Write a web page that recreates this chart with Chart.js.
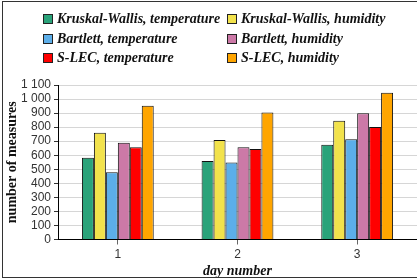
<!DOCTYPE html>
<html>
<head>
<meta charset="utf-8">
<script src="https://cdn.jsdelivr.net/npm/chart.js@4/dist/chart.umd.min.js"></script>
<style>
html,body{margin:0;padding:0;background:#fff;overflow:hidden;}
#wrap{position:relative;width:417px;height:280px;}
</style>
</head>
<body>
<div id="wrap"><canvas id="c" width="417" height="280"></canvas></div>
<script>
const categories = ["1", "2", "3"];
const seriesLabels = [
  "Kruskal-Wallis, temperature",
  "Kruskal-Wallis, humidity",
  "Bartlett, temperature",
  "Bartlett, humidity",
  "S-LEC, temperature",
  "S-LEC, humidity"
];
const kwTemperature = [582, 559, 675];
const kwHumidity = [760, 708, 846];
const bartlettTemperature = [478, 549, 713];
const bartlettHumidity = [689, 656, 898];
const slecTemperature = [656, 644, 801];
const slecHumidity = [952, 905, 1045];
const seriesColors = ["#2aa37a", "#f2e24c", "#5caee9", "#cc79a7", "#ff0000", "#ffa500"];
const yTitle = "number of measures";
const xTitle = "day number";
const yMax = 1100;
const yStep = 100;

const values = [kwTemperature, kwHumidity, bartlettTemperature, bartlettHumidity, slecTemperature, slecHumidity];

const frameAndLegend = {
  id: 'frameAndLegend',
  afterDraw(chart) {
    const ctx = chart.ctx;
    ctx.save();
    ctx.strokeStyle = '#333';
    ctx.lineWidth = 1;
    ctx.strokeRect(2.5, 1.5, 430, 276);
    const colX = [43, 227];
    const rowY = [14, 34, 53];
    ctx.font = 'italic bold 14px "Liberation Serif", serif';
    ctx.textBaseline = 'middle';
    ctx.textAlign = 'left';
    chart.data.datasets.forEach((ds, i) => {
      const col = i % 2, row = Math.floor(i / 2);
      const x = colX[col], y = rowY[row];
      ctx.fillStyle = ds.backgroundColor;
      ctx.fillRect(x, y, 10, 10);
      ctx.strokeStyle = '#222';
      ctx.strokeRect(x + 0.5, y + 0.5, 9, 9);
      ctx.fillStyle = '#111';
      ctx.fillText(ds.label, x + 14, y + 5.5);
    });
    ctx.restore();
  }
};

new Chart(document.getElementById('c'), {
  type: 'bar',
  data: {
    labels: categories,
    datasets: values.map((v, i) => ({
      label: seriesLabels[i],
      data: v,
      backgroundColor: seriesColors[i],
      borderColor: '#111',
      borderWidth: 1,
      categoryPercentage: 0.6,
      barPercentage: 1.0
    }))
  },
  options: {
    responsive: false,
    animation: false,
    layout: { padding: { top: 85, left: 0, right: 0, bottom: 0 } },
    plugins: { legend: { display: false }, tooltip: { enabled: false } },
    scales: {
      x: {
        grid: { display: true, drawOnChartArea: false, drawTicks: true, tickLength: 5, offset: false, color: '#666' },
        border: { color: '#000', width: 1 },
        ticks: { color: '#333', font: { family: '"Liberation Sans", Arial, sans-serif', size: 12 }, padding: 3 },
        title: { display: true, text: xTitle, color: '#111', font: { family: '"Liberation Serif", serif', size: 14, style: 'italic', weight: 'bold' }, padding: { top: 0, bottom: 0 } },
        afterFit(scale) { scale.height = 40.5; }
      },
      y: {
        min: 0, max: yMax,
        grid: { color: '#d6d6d6', tickColor: '#333', tickLength: 4 },
        border: { color: '#000', width: 1 },
        ticks: {
          stepSize: yStep, color: '#333', padding: 3, autoSkip: false,
          font: { family: '"Liberation Sans", Arial, sans-serif', size: 12 },
          callback: (v) => String(v).replace(/\B(?=(\d{3})+(?!\d))/g, ' ')
        },
        title: { display: true, text: yTitle, color: '#111', font: { family: '"Liberation Serif", serif', size: 14, weight: 'bold' }, padding: { top: 4, bottom: 0 } },
        afterFit(scale) { scale.width = 58; }
      }
    }
  },
  plugins: [frameAndLegend]
});
</script>
</body>
</html>
